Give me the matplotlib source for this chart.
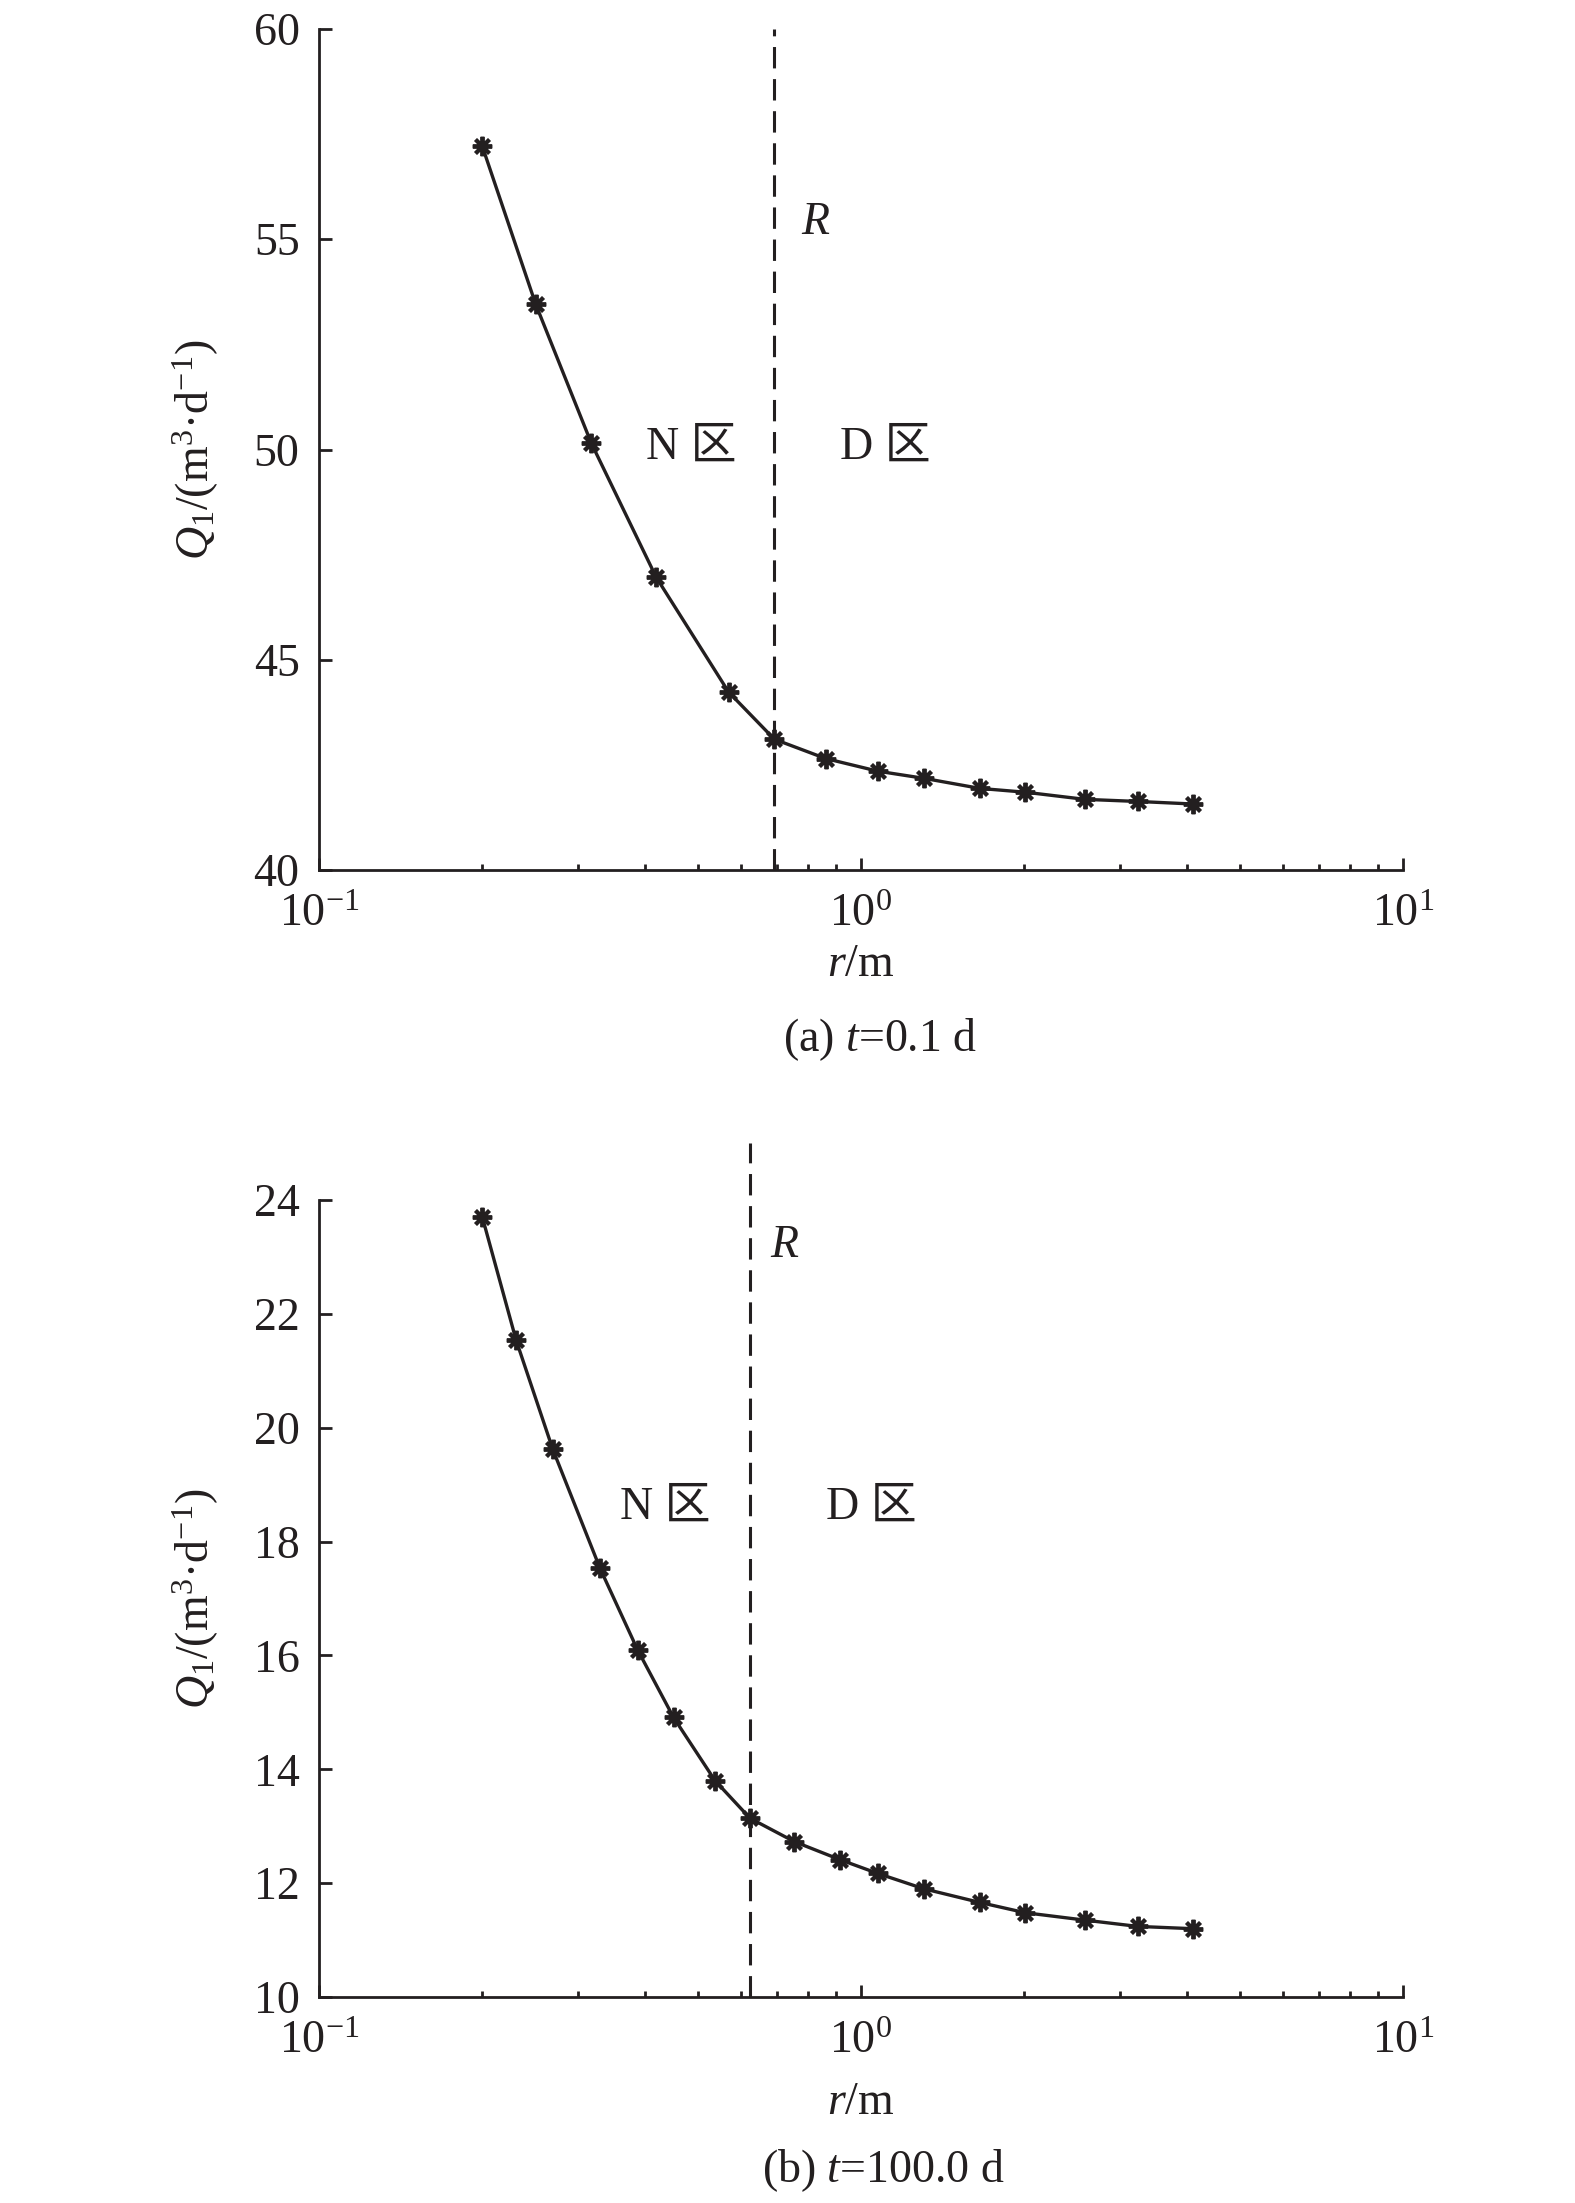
import matplotlib
matplotlib.use('Agg')
import matplotlib.pyplot as plt
from matplotlib.ticker import FixedLocator, FixedFormatter, LogLocator, NullFormatter

plt.rcParams['font.family'] = ['Liberation Serif', 'Noto Sans CJK SC']
plt.rcParams['mathtext.fontset'] = 'custom'
plt.rcParams['mathtext.rm'] = 'Liberation Serif'
plt.rcParams['mathtext.it'] = 'Liberation Serif:italic'
plt.rcParams['mathtext.bf'] = 'Liberation Serif:bold'

# (a) t = 0.1 d
r_a = [0.200, 0.251, 0.318, 0.419, 0.570, 0.692, 0.861, 1.074, 1.307,
       1.658, 2.01, 2.59, 3.24, 4.09]
q_a = [57.22, 53.46, 50.15, 46.96, 44.23, 43.11, 42.65, 42.35, 42.18,
       41.94, 41.85, 41.68, 41.63, 41.57]
R_a = 0.692

# (b) t = 100.0 d
r_b = [0.200, 0.231, 0.270, 0.330, 0.387, 0.451, 0.538, 0.624, 0.753,
       0.916, 1.074, 1.307, 1.658, 2.01, 2.59, 3.24, 4.09]
q_b = [23.71, 21.54, 19.62, 17.53, 16.10, 14.91, 13.80, 13.14, 12.73,
       12.41, 12.17, 11.90, 11.66, 11.48, 11.35, 11.24, 11.20]
R_b = 0.624

xticks = [0.1, 1, 10]
xtick_labels = ['$10^{-1}$', '$10^{0}$', '$10^{1}$']
yticks_a = [40, 45, 50, 55, 60]
yticks_b = [10, 12, 14, 16, 18, 20, 22, 24]
captions = ['(a) $t$=0.1 d', '(b) $t$=100.0 d']

FS = 33
INK = '#231f20'
W, H = 1575, 2203
fig = plt.figure(figsize=(W / 100, H / 100), dpi=100)

# axes boxes in pixels: left, top, right, bottom
boxes = [(319, 29, 1403, 870), (319, 1200, 1403, 1997)]


def make_axes(box):
    l, t, r, b = box
    return fig.add_axes([l / W, 1 - b / H, (r - l) / W, (b - t) / H])


def style(ax, yticks):
    ax.set_xscale('log')
    ax.set_xlim(xticks[0], xticks[-1])
    ax.set_ylim(yticks[0], yticks[-1])
    ax.set_yticks(yticks)
    ax.xaxis.set_major_locator(FixedLocator(xticks))
    ax.xaxis.set_major_formatter(FixedFormatter(xtick_labels))
    ax.xaxis.set_minor_locator(LogLocator(base=10, subs=range(2, 10)))
    ax.xaxis.set_minor_formatter(NullFormatter())
    ax.spines['top'].set_visible(False)
    ax.spines['right'].set_visible(False)
    for s in ['left', 'bottom']:
        ax.spines[s].set_linewidth(2.0)
        ax.spines[s].set_color(INK)
    ax.tick_params(which='major', direction='in', length=9, width=2.0,
                   labelsize=FS, color=INK, labelcolor=INK)
    ax.tick_params(axis='x', which='major', pad=17)
    ax.tick_params(axis='y', which='major', pad=14)
    ax.tick_params(which='minor', direction='in', length=4.5, width=2.0,
                   color=INK)
    ax.set_xlabel('$r$/m', fontsize=FS, color=INK)
    ax.xaxis.label.set_va('center')
    ax.set_ylabel('$Q_1$/(m$^3$·d$^{-1}$)', fontsize=FS, color=INK)
    ax.yaxis.label.set_va('center')
    ax.yaxis.set_label_coords(-0.114, 0.5)


def draw(ax, r, q, R, ytop):
    ax.plot(r, q, color=INK, lw=2.4, marker=(8, 2, 0), ms=14,
            mew=2.8, mec=INK, zorder=3)
    ax.plot([R, R], [ax.get_ylim()[0], ytop], color=INK, lw=2.2,
            dashes=(7, 3.5), clip_on=False)


ax1 = make_axes(boxes[0])
style(ax1, yticks_a)
draw(ax1, r_a, q_a, R_a, 60)
ax1.xaxis.set_label_coords(0.5, -(965 - 870) / 841)
ax1.text(0.776, 55.4, '$R$', fontsize=FS, ha='left', va='center', color=INK)
ax1.text(0.487, 50.05, 'N 区', fontsize=FS, ha='center', va='center', color=INK)
ax1.text(1.107, 50.05, 'D 区', fontsize=FS, ha='center', va='center', color=INK)

ax2 = make_axes(boxes[1])
style(ax2, yticks_b)
draw(ax2, r_b, q_b, R_b, 25)
ax2.xaxis.set_label_coords(0.5, -(2103 - 1997) / 797)
ax2.text(0.679, 23.2, '$R$', fontsize=FS, ha='left', va='center', color=INK)
ax2.text(0.436, 18.6, 'N 区', fontsize=FS, ha='center', va='center', color=INK)
ax2.text(1.043, 18.6, 'D 区', fontsize=FS, ha='center', va='center', color=INK)

fig.text(880 / W, 1 - 1040 / H, captions[0], fontsize=FS, ha='center',
         va='center', color=INK)
fig.text(883 / W, 1 - 2171 / H, captions[1], fontsize=FS, ha='center',
         va='center', color=INK)

fig.savefig('out.png', dpi=100, facecolor='white')
